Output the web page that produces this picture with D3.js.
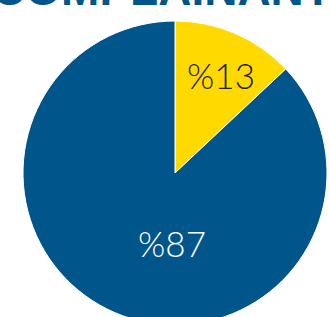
<!DOCTYPE html>
<html>
<head>
<meta charset="utf-8">
<script src="https://cdn.jsdelivr.net/npm/d3@7"></script>
<style>
  body { margin: 0; background: #fff; }
  svg { display: block; }
</style>
</head>
<body>
<svg></svg>
<script>
// Data
const labels = ["Yes", "No"];
const values = [13, 87];
const pctLabels = ["%13", "%87"];
const colors = ["#FFD900", "#00558A"];

const width = 330;
const height = 317;
const cx = 175, cy = 173, radius = 152;

const svg = d3.select("svg")
  .attr("width", width)
  .attr("height", height);

// Title (mostly cut off at the top)
svg.append("text")
  .attr("x", 162)
  .attr("y", 5)
  .attr("text-anchor", "middle")
  .attr("font-family", "Liberation Sans, Arial, sans-serif")
  .attr("font-weight", "bold")
  .attr("font-size", 46)
  .attr("fill", "#00558A")
  .text("COMPLAINANT");

const pie = d3.pie().sort(null).value(d => d);
const arcs = pie(values);
const arc = d3.arc().innerRadius(0).outerRadius(radius);

const g = svg.append("g")
  .attr("transform", `translate(${cx}, ${cy})`);

g.selectAll("path")
  .data(arcs)
  .enter()
  .append("path")
  .attr("d", arc)
  .attr("fill", (d, i) => colors[i])
  .attr("stroke", "#fff")
  .attr("stroke-width", 1);

// Percent labels
g.selectAll("text.pct")
  .data(arcs)
  .enter()
  .append("text")
  .attr("class", "pct")
  .attr("x", (d, i) => i === 0 ? 46 : -3)
  .attr("y", (d, i) => i === 0 ? -84 : 84)
  .attr("text-anchor", "middle")
  .attr("font-family", "Lato, Open Sans, sans-serif")
  .attr("font-weight", 300)
  .attr("font-size", 35)
  .attr("fill", (d, i) => i === 0 ? "#222" : "#fff")
  .text((d, i) => pctLabels[i]);
</script>
</body>
</html>
